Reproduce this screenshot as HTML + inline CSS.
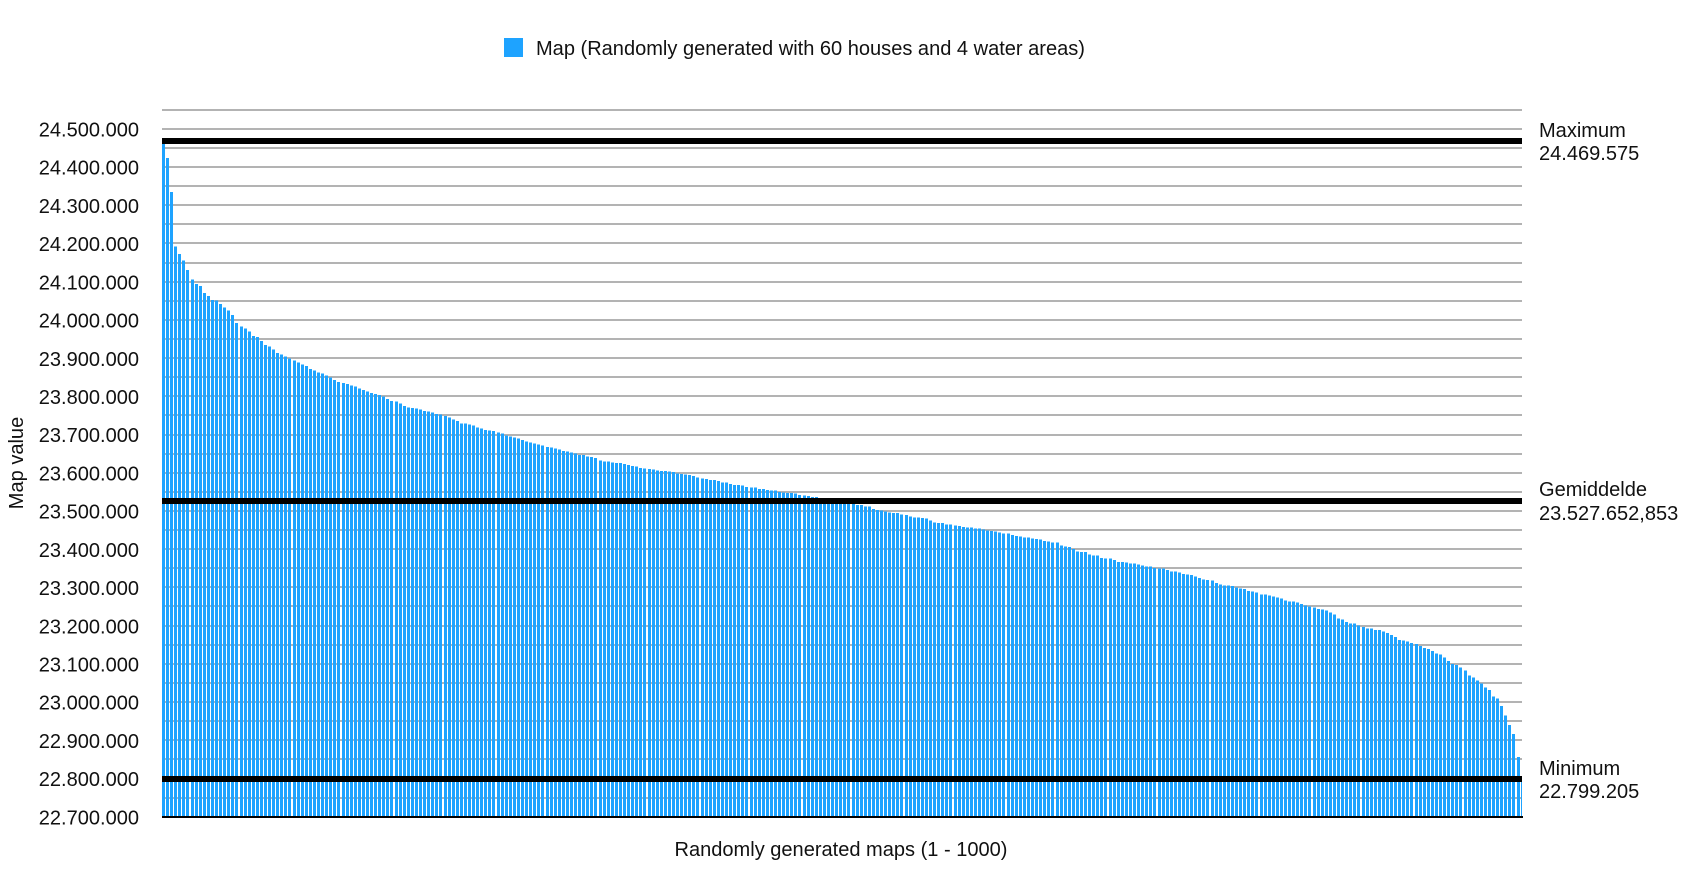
<!DOCTYPE html>
<html lang="en">
<head>
<meta charset="utf-8">
<title>Randomly generated maps</title>
<style>
html,body{margin:0;padding:0;background:#fff;}
#chart{display:block;width:1700px;height:884px;}
text{font-family:"Liberation Sans",Arial,sans-serif;font-size:20.05px;fill:#111;}
</style>
</head>
<body>
<svg id="chart" xmlns="http://www.w3.org/2000/svg" width="1700" height="884" viewBox="0 0 1700 884">
  <g id="grid"></g>
  <g id="bars" shape-rendering="crispEdges"></g>
  <g id="refs"></g>
  <g id="yticks"></g>
  <g>
    <rect x="504" y="38" width="19" height="19" fill="#1ea3ff"/>
    <text x="536" y="55">Map (Randomly generated with 60 houses and 4 water areas)</text>
  </g>
  <text transform="translate(23,463) rotate(-90)" text-anchor="middle">Map value</text>
  <text x="841" y="856" text-anchor="middle">Randomly generated maps (1 - 1000)</text>
</svg>
<script>
// Map values in thousands (each entry is one visible bar cluster)
const mapValues = [
24470,24423,24335,24192,24172,24155,24130,24105,24094,24089,
24070,24062,24052,24050,24042,24032,24025,24013,23992,23982,
23977,23969,23958,23955,23945,23934,23930,23922,23913,23909,
23904,23899,23893,23888,23883,23879,23872,23868,23862,23859,
23855,23849,23843,23838,23835,23832,23828,23825,23821,23816,
23812,23808,23806,23803,23800,23793,23788,23786,23781,23775,
23770,23769,23768,23766,23761,23760,23758,23753,23752,23748,
23744,23739,23735,23729,23729,23726,23724,23718,23716,23712,
23710,23709,23705,23703,23698,23695,23692,23689,23685,23682,
23679,23676,23674,23671,23667,23666,23663,23661,23657,23655,
23653,23650,23647,23647,23642,23641,23639,23632,23629,23629,
23627,23625,23625,23623,23620,23617,23616,23613,23611,23610,
23608,23606,23604,23604,23603,23602,23598,23596,23595,23594,
23591,23588,23585,23584,23581,23581,23578,23575,23574,23571,
23568,23568,23566,23563,23561,23561,23558,23557,23555,23554,
23553,23550,23548,23547,23547,23545,23542,23541,23539,23537,
23536,23534,23532,23530,23528,23526,23524,23522,23520,23518,
23516,23516,23512,23511,23505,23503,23501,23498,23496,23494,
23494,23491,23489,23486,23483,23483,23481,23480,23475,23470,
23468,23468,23465,23465,23462,23461,23458,23457,23457,23454,
23454,23452,23449,23448,23446,23444,23441,23441,23437,23435,
23433,23431,23431,23428,23426,23425,23422,23420,23418,23417,
23410,23407,23405,23401,23394,23392,23392,23386,23384,23384,
23377,23376,23375,23371,23367,23366,23365,23363,23363,23360,
23357,23355,23354,23351,23350,23349,23346,23342,23341,23339,
23335,23334,23332,23329,23325,23321,23319,23318,23311,23308,
23305,23305,23303,23300,23297,23296,23291,23289,23287,23282,
23282,23279,23276,23274,23271,23266,23263,23263,23261,23256,
23253,23250,23247,23244,23242,23240,23234,23229,23218,23216,
23210,23205,23205,23200,23196,23193,23193,23189,23189,23185,
23181,23175,23170,23162,23161,23158,23154,23152,23147,23142,
23139,23133,23127,23125,23116,23108,23100,23097,23090,23083,
23070,23064,23057,23048,23038,23031,23015,23009,22989,22965,
22940,22917,22856,22799
];
// Y-axis tick labels (thousands)
const yTickValues = [24500,24400,24300,24200,24100,24000,23900,23800,23700,23600,23500,23400,23300,23200,23100,23000,22900,22800,22700];
const gridStep = 50;
const gridMax = 24550;
const gridMin = 22700;
// Reference lines
const refNames = ["Maximum","Gemiddelde","Minimum"];
const refValues = [24469.575,23527.652853,22799.205];
const refLabels = ["24.469.575","23.527.652,853","22.799.205"];

const NS = "http://www.w3.org/2000/svg";
const plotLeft = 162, plotRight = 1522, baseY = 816.7, pxPerThousand = 0.3822;
const barBand = 4.08, barWidth = 3;

function yScale(v){ return baseY - (v - gridMin) * pxPerThousand; }
function xScale(i){ return plotLeft + i * barBand; }
function fmtTick(v){ return (v / 1000).toFixed(3) + ".000"; }
function mk(tag, attrs){
  const el = document.createElementNS(NS, tag);
  for (const k in attrs) el.setAttribute(k, attrs[k]);
  return el;
}

const gridG = document.getElementById("grid");
for (let v = gridMax; v >= gridMin + gridStep; v -= gridStep) {
  const el = mk("rect", {x: plotLeft, y: Math.round(yScale(v)) - 1, width: plotRight - plotLeft, height: 2, fill: "#b3b3b3"});
  
  
  gridG.appendChild(el);
}

const barsG = document.getElementById("bars");
mapValues.forEach(function(v, i){
  const x = Math.round(xScale(i));
  const top = yScale(v);
  const el = mk("rect", {x: x, y: top, width: Math.min(barWidth, plotRight - x), height: baseY - top, fill: "#1ea3ff"});
  
  
  barsG.appendChild(el);
});

const refG = document.getElementById("refs");
refValues.forEach(function(v, i){
  const cy = Math.round(yScale(v) + 0.5);
  const line = mk("rect", {x: plotLeft, y: cy - 3, width: plotRight - plotLeft, height: 6, fill: "#000"});
  
  
  refG.appendChild(line);
  const name = mk("text", {x: 1539, y: cy - (i === 1 ? 5 : 4)});
  
  
  name.textContent = refNames[i];
  refG.appendChild(name);
  const val = mk("text", {x: 1539, y: cy + 19});
  
  
  val.textContent = refLabels[i];
  refG.appendChild(val);
});

const axis = mk("rect", {x: plotLeft, y: 816, width: plotRight - plotLeft + 1, height: 2, fill: "#000"});


refG.appendChild(axis);

const tickG = document.getElementById("yticks");
yTickValues.forEach(function(v){
  const el = mk("text", {x: 139, y: yScale(v) + 7.7, "text-anchor": "end"});
  
  
  el.textContent = fmtTick(v);
  tickG.appendChild(el);
});
</script>
</body>
</html>
